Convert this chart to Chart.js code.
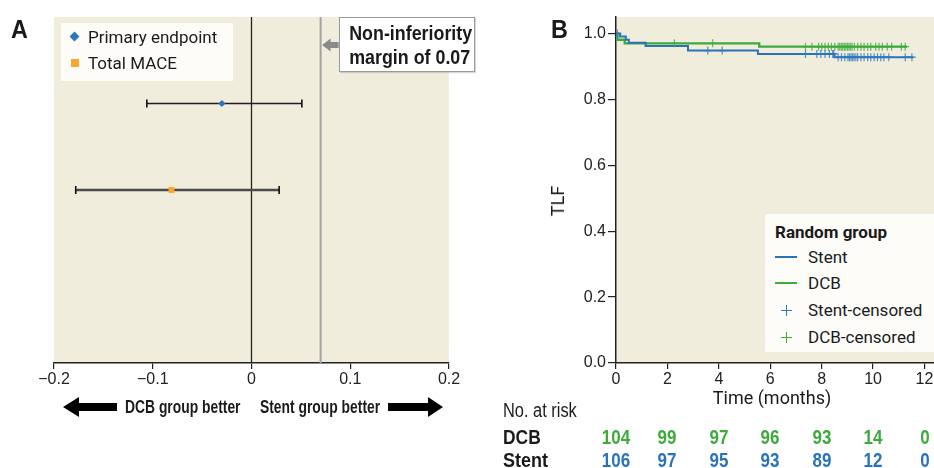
<!DOCTYPE html>
<html><head><meta charset="utf-8">
<script src="https://cdn.jsdelivr.net/npm/chart.js@4/dist/chart.umd.min.js"></script>
<style>
html,body{margin:0;padding:0;background:#fff;}
body{width:934px;height:468px;overflow:hidden;position:relative;font-family:Roboto,'Liberation Sans',sans-serif;color:#1a1a1a;}
canvas{position:absolute;top:0;}
.t{position:absolute;white-space:nowrap;}
.nar{font-family:'Liberation Sans',Arial,sans-serif;transform-origin:0 50%;}
.b{font-weight:bold;}
</style></head><body>
<canvas id="ca" width="480" height="420" style="left:0;width:480px;height:420px"></canvas>
<canvas id="cb" width="400" height="410" style="left:540px;width:400px;height:410px"></canvas>

<div class="t nar b" style="left:11px;top:14px;font-size:26px;line-height:30px;transform:scaleX(0.9);">A</div>
<div class="t nar b" style="left:551px;top:14px;font-size:26px;line-height:30px;transform:scaleX(0.9);">B</div>

<!-- legend A -->
<div class="t" style="left:61px;top:23px;width:172px;height:58px;background:#FDFCF9;"></div>
<div class="t" style="left:71px;top:33px;width:7px;height:7px;background:#2A76BE;transform:rotate(45deg);"></div>
<div class="t" style="left:71px;top:59px;width:8px;height:8px;background:#F8A82B;"></div>
<div class="t" style="left:88px;top:26px;font-size:17px;line-height:22px;">Primary endpoint</div>
<div class="t" style="left:88px;top:52px;font-size:17px;line-height:22px;">Total MACE</div>

<!-- non-inferiority box -->
<div class="t" style="left:339px;top:17px;width:134px;height:53px;border:1px solid #9a9a9a;background:#fff;box-shadow:1px 1px 1px rgba(0,0,0,0.15);"></div>
<div class="t b" style="left:339px;top:21px;width:136px;text-align:center;font-family:'Liberation Sans',Arial,sans-serif;font-size:21px;line-height:24px;transform:scaleX(0.85);transform-origin:50% 50%;">Non-inferiority<br>margin of 0.07</div>

<div class="t nar b" style="left:125px;top:396px;font-size:18px;line-height:22px;transform:scaleX(0.77);">DCB group better</div>
<div class="t nar b" style="left:260px;top:396px;font-size:18px;line-height:22px;transform:scaleX(0.77);">Stent group better</div>

<!-- panel B texts -->
<div class="t" style="left:558px;top:201px;font-size:18px;line-height:22px;transform:translate(-50%,-50%) rotate(-90deg);">TLF</div>
<div class="t" style="left:772px;top:387px;font-size:18px;line-height:22px;transform:translateX(-50%);">Time (months)</div>

<div class="t" style="left:765px;top:214px;width:190px;height:138px;background:#FDFCF9;"></div>
<div class="t b" style="left:775px;top:221px;font-size:17px;line-height:22px;">Random group</div>
<div class="t" style="left:775px;top:256px;width:22px;height:2px;background:#2B73B8;"></div>
<div class="t" style="left:775px;top:282px;width:22px;height:2px;background:#3DAA3C;"></div>
<div class="t" style="left:786px;top:305px;width:1.4px;height:11px;background:#2B78C0;"></div>
<div class="t" style="left:781px;top:310px;width:11px;height:1.4px;background:#2B78C0;"></div>
<div class="t" style="left:786px;top:332px;width:1.4px;height:11px;background:#3DAA3C;"></div>
<div class="t" style="left:781px;top:337px;width:11px;height:1.4px;background:#3DAA3C;"></div>
<div class="t" style="left:808px;top:246px;font-size:17px;line-height:22px;">Stent</div>
<div class="t" style="left:808px;top:272px;font-size:17px;line-height:22px;">DCB</div>
<div class="t" style="left:808px;top:299px;font-size:17px;line-height:22px;">Stent-censored</div>
<div class="t" style="left:808px;top:326px;font-size:17px;line-height:22px;">DCB-censored</div>

<div class="t nar" style="left:503px;top:399px;font-size:20px;line-height:22px;transform:scaleX(0.82);">No. at risk</div>
<div class="t nar b" style="left:503px;top:426px;font-size:20px;line-height:22px;transform:scaleX(0.87);">DCB</div>
<div class="t nar b" style="left:503px;top:449px;font-size:20px;line-height:22px;transform:scaleX(0.9);">Stent</div>
<div id="risk"></div>

<script>
// ---------- Panel A data ----------
const forestLabels = ['Primary endpoint', 'Total MACE'];
const forestEst  = [-0.030, -0.081];
const forestLow  = [-0.106, -0.178];
const forestHigh = [0.051, 0.028];
const forestRow  = [1, 2];
const marginValue = 0.07;
const forestTicks = [-0.2, -0.1, 0, 0.1, 0.2];

// ---------- Panel B data ----------
const stentTimes = [0, 0.16, 0.38, 0.5, 1.15, 2.8, 5.52, 8.5, 11.57];
const stentSurv  = [1, 0.991, 0.981, 0.972, 0.962, 0.948, 0.938, 0.928, 0.928];
const dcbTimes   = [0, 0.06, 0.34, 5.57, 11.32];
const dcbSurv    = [1, 0.981, 0.970, 0.960, 0.960];
const stentCensor = [0.05, 3.57, 4.13, 7.37, 7.81, 7.97, 8.13, 8.3, 8.43, 8.47, 8.64, 8.77, 8.9, 9.02, 9.08, 9.14, 9.2, 9.26, 9.33, 9.4, 9.53, 9.65, 9.79, 9.91, 10.04, 10.17, 10.3, 10.42, 10.61, 11.25, 11.51];
const dcbCensor   = [2.27, 3.76, 7.37, 7.62, 7.88, 8.0, 8.13, 8.26, 8.38, 8.51, 8.64, 8.7, 8.76, 8.82, 8.88, 8.94, 9.0, 9.06, 9.12, 9.18, 9.27, 9.4, 9.53, 9.65, 9.79, 9.91, 10.1, 10.23, 10.36, 10.55, 10.72, 11.1, 11.25];
const riskMonths = [0, 2, 4, 6, 8, 10, 12];
const riskDCB    = [104, 99, 97, 96, 93, 14, 0];
const riskStent  = [106, 97, 95, 93, 89, 12, 0];

const TICKFONT = "'Liberation Sans',Arial,sans-serif";
const BEIGE = '#F1EDDC';
const BLUE = '#2B73B8', GREEN = '#3DAA3C', ORANGE = '#F8A82B';

const bgPlugin = {id:'bg', beforeDraw(c){const {ctx, chartArea:a} = c; ctx.save(); ctx.fillStyle = BEIGE; ctx.fillRect(a.left, a.top, a.right - a.left, a.bottom - a.top); ctx.restore();}};

function arrow(ctx, tip, tail, y, headLen, headHalf, shaftHalf){
  const d = Math.sign(tail - tip);
  const hb = tip + d * headLen;
  ctx.beginPath();
  ctx.moveTo(tip, y); ctx.lineTo(hb, y - headHalf); ctx.lineTo(hb, y - shaftHalf);
  ctx.lineTo(tail, y - shaftHalf); ctx.lineTo(tail, y + shaftHalf); ctx.lineTo(hb, y + shaftHalf);
  ctx.lineTo(hb, y + headHalf); ctx.closePath(); ctx.fill();
}
const arrowPlugin = {id:'arrows', afterDraw(c){
  const {ctx, chartArea:a, scales:{x}} = c;
  const xm = x.getPixelForValue(marginValue);
  ctx.save();
  ctx.fillStyle = '#8a8a8a';
  arrow(ctx, xm + 1.5, xm + 18, a.top + 28, 8.5, 6.5, 3);
  ctx.fillStyle = '#000';
  const yb = a.bottom + 44;
  arrow(ctx, a.left + 9, a.left + 63, yb, 16, 10, 4);
  arrow(ctx, a.right - 6, a.right - 61, yb, 15, 10, 4);
  ctx.restore();
}};

const fmtA = v => (Math.abs(v) < 1e-9 ? '0' : v.toFixed(1)).replace('-', '\u2212');

const dsA = [];
forestEst.forEach((e, i) => {
  dsA.push({data:[{x:e, y:forestRow[i]}], pointStyle: i === 0 ? 'rectRot' : 'rect',
    pointRadius: i === 0 ? 3.6 : 4.2, backgroundColor: i === 0 ? '#2A76BE' : ORANGE, borderWidth:0, pointBorderWidth:0});
});
forestEst.forEach((e, i) => {
  const col = i === 0 ? '#1e1e1e' : '#4a4a4a';
  dsA.push({data:[{x:forestLow[i], y:forestRow[i]}, {x:forestHigh[i], y:forestRow[i]}], showLine:true,
    borderColor: col, borderWidth: i === 0 ? 1.6 : 2.6, pointStyle:'line', pointRotation:90, pointRadius:4,
    pointBorderColor:'#111', pointBorderWidth:1.6});
});
dsA.push({data:[{x:0, y:0}, {x:0, y:4}], showLine:true, borderColor:'#222', borderWidth:1.3, pointRadius:0});
dsA.push({data:[{x:marginValue, y:0}, {x:marginValue, y:4}], showLine:true, borderColor:'#a3a3a3', borderWidth:2, pointRadius:0});

new Chart(document.getElementById('ca'), {
  type:'scatter',
  data:{datasets:dsA},
  options:{responsive:false, animation:false, events:[],
    layout:{padding:{top:17, left:54, right:31, bottom:17}},
    plugins:{legend:{display:false}, tooltip:{enabled:false}},
    scales:{
      x:{type:'linear', min:forestTicks[0], max:forestTicks[forestTicks.length-1],
        afterBuildTicks(s){ s.ticks = forestTicks.map(v => ({value:v})); },
        ticks:{callback:fmtA, font:{family:TICKFONT, size:16}, color:'#222', padding:1, maxRotation:0},
        grid:{drawOnChartArea:false, drawTicks:true, tickLength:6, color:'#222', lineWidth:1.2},
        border:{display:true, color:'#222', width:1.5},
        afterFit(s){ s.height = 40; }},
      y:{type:'linear', min:0, max:4, reverse:true, display:false}
    }},
  plugins:[bgPlugin, arrowPlugin]
});

// ---------- Panel B ----------
function survAt(times, surv, t){ let s = surv[0]; for (let i = 0; i < times.length; i++){ if (times[i] <= t) s = surv[i]; } return s; }
const toPts = (ts, ss) => ts.map((t, i) => ({x:t, y:ss[i]}));

const chartB = new Chart(document.getElementById('cb'), {
  type:'scatter',
  data:{datasets:[
    {data: stentCensor.map(t => ({x:t, y:survAt(stentTimes, stentSurv, t)})), pointStyle:'cross', pointRadius:4, pointBorderWidth:1.2, borderColor:'rgba(43,120,192,0.8)', backgroundColor:'rgba(43,120,192,0.8)'},
    {data: dcbCensor.map(t => ({x:t, y:survAt(dcbTimes, dcbSurv, t)})), pointStyle:'cross', pointRadius:4, pointBorderWidth:1.2, borderColor:'rgba(61,170,60,0.8)', backgroundColor:'rgba(61,170,60,0.8)'},
    {data: toPts(stentTimes, stentSurv), showLine:true, stepped:true, borderColor:BLUE, borderWidth:2, pointRadius:0},
    {data: toPts(dcbTimes, dcbSurv), showLine:true, stepped:true, borderColor:GREEN, borderWidth:2.4, pointRadius:0}
  ]},
  options:{responsive:false, animation:false, events:[],
    layout:{padding:{top:17, left:0, right:0, bottom:2}},
    plugins:{legend:{display:false}, tooltip:{enabled:false}},
    scales:{
      x:{type:'linear', min:0, max:12.4,
        afterBuildTicks(s){ s.ticks = riskMonths.map(v => ({value:v})); },
        ticks:{font:{family:TICKFONT, size:16}, color:'#222', padding:1, maxRotation:0, callback:v => String(v)},
        grid:{drawOnChartArea:false, drawTicks:true, tickLength:6, color:'#222', lineWidth:1.2},
        border:{display:true, color:'#222', width:1.5},
        afterFit(s){ s.height = 45; }},
      y:{type:'linear', min:0, max:1.05,
        ticks:{stepSize:0.2, includeBounds:false, font:{family:TICKFONT, size:16}, color:'#222', padding:2, callback:v => v.toFixed(1)},
        grid:{drawOnChartArea:false, drawTicks:true, tickLength:8, color:'#222', lineWidth:1.2},
        border:{display:true, color:'#222', width:1.5},
        afterFit(s){ s.width = 76; }}
    }},
  plugins:[bgPlugin]
});

// risk table positioned from the x scale
const risk = document.getElementById('risk');
riskMonths.forEach((m, i) => {
  const px = 540 + chartB.scales.x.getPixelForValue(m);
  [[riskDCB[i], 426, GREEN], [riskStent[i], 449, BLUE]].forEach(([v, top, col]) => {
    const d = document.createElement('div');
    d.className = 't b';
    d.style.cssText = `left:${px}px;top:${top}px;font-family:'Liberation Sans',Arial,sans-serif;font-size:20px;line-height:22px;color:${col};transform:translateX(-50%) scaleX(0.85);`;
    d.textContent = v;
    risk.appendChild(d);
  });
});
</script>
</body></html>
